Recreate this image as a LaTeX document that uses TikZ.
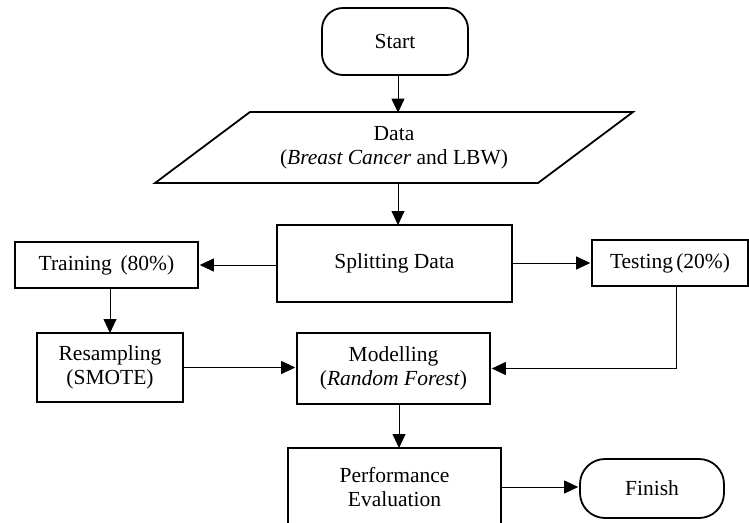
\documentclass[tikz,border=0pt]{standalone}
\usepackage{fontspec}
\setmainfont{Liberation Serif}
\usetikzlibrary{arrows.meta}
\begin{document}
\begin{tikzpicture}[x=1pt,y=-1pt,
  every node/.style={font=\fontsize{21.5}{24.5}\selectfont, align=center, inner sep=0pt},
  box/.style={draw, line width=1.8pt, rectangle},
  term/.style={draw, line width=1.8pt, rectangle},
  arr/.style={line width=0.9pt, -{Triangle[length=14pt,width=13pt]}},
  conn/.style={line width=0.9pt}]
\useasboundingbox (0,0) rectangle (749,522);
\clip (0,0) rectangle (749,522);
% Start
\node[term, rounded corners=21pt, minimum width=146pt, minimum height=67pt] (start) at (395,41.5) {Start};
% Data parallelogram
\node[minimum width=383pt, minimum height=71pt] (data) at (394,147.5) {Data\\(\textit{Breast Cancer} and LBW)};
\draw[line width=1.8pt, line join=miter] (250,112) -- (633,112) -- (538,183) -- (155,183) -- cycle;
\coordinate (ax) at (398,0);
\coordinate (bx) at (399,0);
% boxes
\node[box, minimum width=235pt, minimum height=77pt] (split) at (394.5,263.5) {Splitting Data};
\node[box, minimum width=183pt, minimum height=46pt] (train) at (106.5,265) {Training\hspace{0.4em}(80\%)};
\node[box, minimum width=156pt, minimum height=46pt] (test) at (670,263) {Testing\hspace{0.15em}(20\%)};
\node[box, minimum width=146pt, minimum height=69pt] (resamp) at (110,367.5) {Resampling\\(SMOTE)};
\node[box, minimum width=193pt, minimum height=71pt] (model) at (393.5,368.5) {Modelling\\(\textit{Random Forest})};
\node[box, minimum width=213pt, minimum height=78pt] (perf) at (394.5,487) {Performance\\Evaluation};
\node[term, rounded corners=25pt, minimum width=144pt, minimum height=59pt] (finish) at (652,488.5) {Finish};
% connectors
\draw[arr] (start.south -| ax) -- ([yshift=-0.9pt]ax |- data.north);
\draw[arr] (data.south -| ax) -- ([yshift=-0.9pt]ax |- split.north);
\draw[arr] (split.west |- train.east) -- ([xshift=0.9pt]train.east);
\draw[arr] (split.east |- test.west) -- ([xshift=-0.9pt]test.west);
\draw[arr] (train.south -| resamp) -- ([yshift=-0.9pt]resamp.north);
\draw[arr] (resamp.east) -- ([xshift=-0.9pt]model.west |- resamp.east);
\draw[arr] ([xshift=6pt]test.south) |- ([xshift=0.9pt]model.east);
\draw[arr] (model.south -| bx) -- ([yshift=-0.9pt]bx |- perf.north);
\draw[arr] (perf.east) -- ([xshift=-0.9pt]finish.west |- perf.east);
\end{tikzpicture}
\end{document}
